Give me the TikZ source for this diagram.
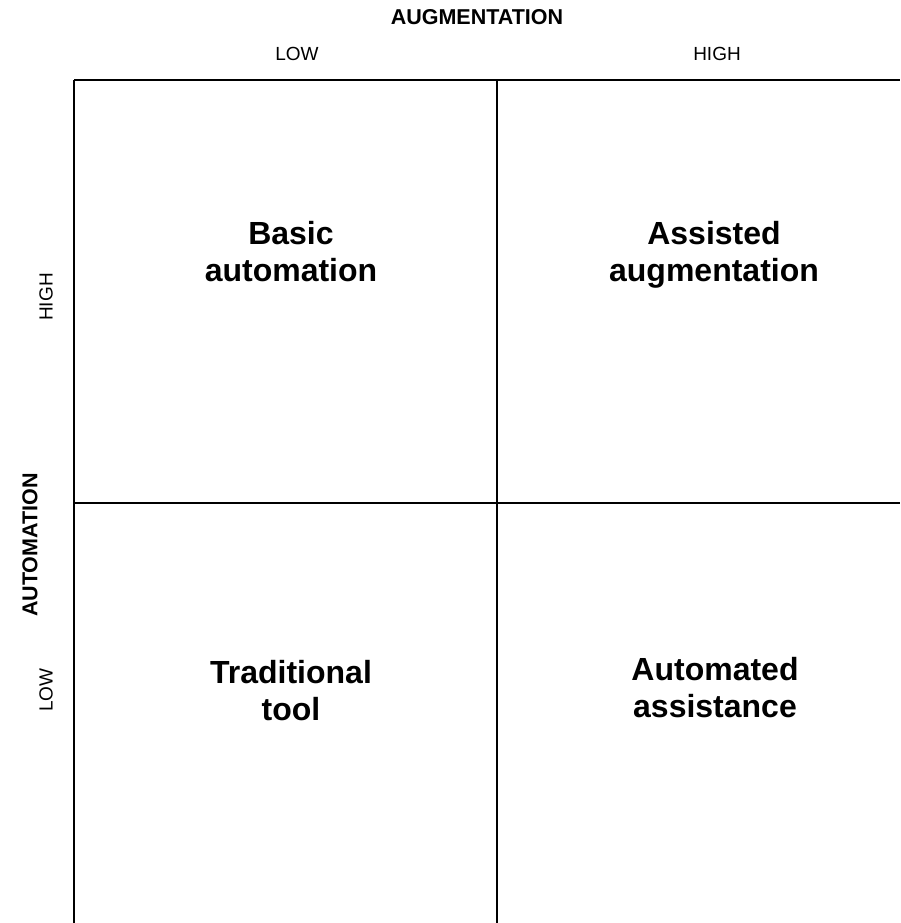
\documentclass[tikz,border=0pt]{standalone}
\usepackage{fontspec}
\setmainfont{Liberation Sans}
\usepackage{tikz}
\tikzset{
  axis/.style={font=\fontsize{19}{23}\selectfont},
  axistitle/.style={font=\fontsize{21.5}{25}\selectfont\bfseries},
  quad/.style={align=center,font=\fontsize{32}{37}\selectfont\bfseries},
  gridline/.style={line width=1.2pt}
}
\begin{document}
\begin{tikzpicture}[x=1pt, y=-1pt]
\useasboundingbox (0,0) rectangle (900,923);
% grid
\coordinate (tl) at (74,80);
\coordinate (tm) at (497,80);
\coordinate (tr) at (900,80);
\coordinate (ml) at (74,503);
\coordinate (mr) at (900,503);
\coordinate (bl) at (74,923);
\coordinate (bm) at (497,923);
\draw[gridline] (tl) -- (tr);
\draw[gridline] (ml) -- (mr);
\draw[gridline] (tl) -- (bl);
\draw[gridline] (tm) -- (bm);
% axis labels
\node[axistitle] (augtitle) at (477,17) {AUGMENTATION};
\node[axis] (auglow) at (297,54) {LOW};
\node[axis] (aughigh) at (717,54) {HIGH};
\node[axistitle, rotate=90] (autotitle) at (30,545) {AUTOMATION};
\node[axis, rotate=90] (autohigh) at (46,297) {HIGH};
\node[axis, rotate=90] (autolow) at (46,690) {LOW};
% quadrants
\node[quad] (basic) at (291,252) {Basic\\automation};
\node[quad] (assisted) at (714,255) {Assisted\\augmentation};
\node[quad] (traditional) at (291,691) {Traditional\\tool};
\node[quad] (automated) at (715,688) {Automated\\assistance};
\end{tikzpicture}
\end{document}
